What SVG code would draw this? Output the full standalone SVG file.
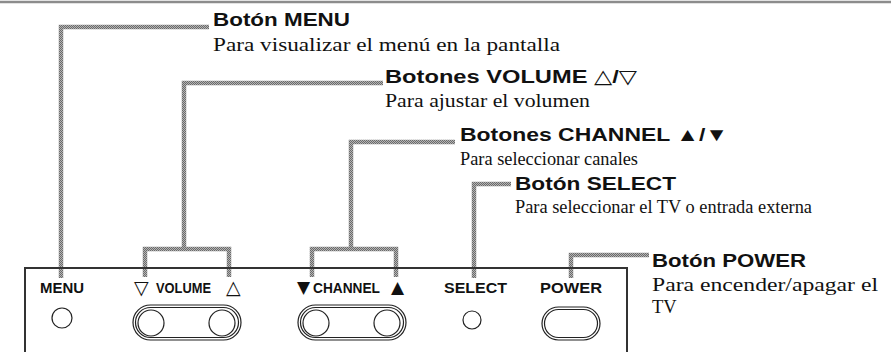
<svg xmlns="http://www.w3.org/2000/svg" width="891" height="352" viewBox="0 0 891 352">
<defs>
<pattern id="dither" width="2" height="2" patternUnits="userSpaceOnUse">
<rect width="2" height="2" fill="#b4b4b4"/>
<rect width="1" height="1" fill="#6a6a6a"/>
<rect x="1" y="1" width="1" height="1" fill="#6a6a6a"/>
</pattern>
</defs>
<style>
.title{font-family:"Liberation Sans",Arial,"DejaVu Sans",sans-serif;font-weight:bold;font-size:19px;fill:#111}
.desc{font-family:"Liberation Serif","Times New Roman",serif;font-size:18.5px;fill:#111}
.lbl{font-family:"Liberation Sans",Arial,sans-serif;font-weight:bold;font-size:14px;fill:#111}
.tri{font-family:"DejaVu Sans",sans-serif;fill:#111}
.conn{fill:none;stroke:url(#dither);stroke-width:4.5;stroke-linejoin:miter}
.ol{fill:none;stroke:#222;stroke-width:1.2}
.panel{fill:none;stroke:#333;stroke-width:2}
</style>
<rect width="891" height="352" fill="#fff"/>
<line x1="0" y1="2" x2="891" y2="2" stroke="#8c8c8c" stroke-width="2.5"/>
<g id="connectors">
<path class="conn" d="M61 278V27H209"/>
<path class="conn" d="M184 249V83H383"/>
<path class="conn" d="M145 277V249H229V277"/>
<path class="conn" d="M351 249V142H455"/>
<path class="conn" d="M312 277V249H396V277"/>
<path class="conn" d="M474 278V184H511"/>
<path class="conn" d="M571 278V255H649"/>
</g>
<g id="panel">
<path class="panel" d="M25 352V268H627V352"/>
</g>
<g id="menu">
<text class="title" x="213" y="26" textLength="137" lengthAdjust="spacingAndGlyphs">Botón MENU</text>
<text class="desc" x="213" y="51" textLength="347" lengthAdjust="spacingAndGlyphs">Para visualizar el menú en la pantalla</text>
<text class="lbl" x="40" y="293" textLength="44" lengthAdjust="spacingAndGlyphs">MENU</text>
<circle class="ol" cx="62" cy="318" r="10"/>
</g>
<g id="volume">
<text class="title" x="385" y="83" textLength="252" lengthAdjust="spacingAndGlyphs">Botones VOLUME △/▽</text>
<text class="desc" x="385" y="107" textLength="205" lengthAdjust="spacingAndGlyphs">Para ajustar el volumen</text>
<text class="tri" x="134" y="294" font-size="19">▽</text>
<text class="lbl" x="156" y="293" textLength="55" lengthAdjust="spacingAndGlyphs">VOLUME</text>
<text class="tri" x="226" y="294" font-size="19">△</text>
<rect class="ol" x="133" y="305" width="108" height="35" rx="17.5"/>
<rect class="ol" x="135.5" y="307.5" width="103" height="30" rx="15"/>
<circle class="ol" cx="151" cy="323" r="13"/>
<circle class="ol" cx="222" cy="323" r="13"/>
</g>
<g id="channel">
<text class="title" x="460" y="141" textLength="268" lengthAdjust="spacingAndGlyphs">Botones CHANNEL ▲/▼</text>
<text class="desc" x="460" y="165" textLength="178" lengthAdjust="spacingAndGlyphs">Para seleccionar canales</text>
<text class="tri" x="297" y="293" font-size="17">▼</text>
<text class="lbl" x="313" y="293" textLength="67" lengthAdjust="spacingAndGlyphs">CHANNEL</text>
<text class="tri" x="391" y="293" font-size="17">▲</text>
<rect class="ol" x="298" y="305" width="108" height="35" rx="17.5"/>
<rect class="ol" x="300.5" y="307.5" width="103" height="30" rx="15"/>
<circle class="ol" cx="316" cy="323" r="13"/>
<circle class="ol" cx="387" cy="323" r="13"/>
</g>
<g id="select">
<text class="title" x="515" y="190" textLength="161" lengthAdjust="spacingAndGlyphs">Botón SELECT</text>
<text class="desc" x="515" y="213" textLength="297" lengthAdjust="spacingAndGlyphs">Para seleccionar el TV o entrada externa</text>
<text class="lbl" x="444" y="293" textLength="63" lengthAdjust="spacingAndGlyphs">SELECT</text>
<circle class="ol" cx="472" cy="320" r="9"/>
</g>
<g id="power">
<text class="title" x="652" y="267" textLength="154" lengthAdjust="spacingAndGlyphs">Botón POWER</text>
<text class="desc" x="652" y="291" font-size="20" textLength="226" lengthAdjust="spacingAndGlyphs">Para encender/apagar el</text>
<text class="desc" x="652" y="313" font-size="20">TV</text>
<text class="lbl" x="540" y="293" textLength="62" lengthAdjust="spacingAndGlyphs">POWER</text>
<rect class="ol" x="542" y="307" width="58" height="33" rx="16.5"/>
<rect class="ol" x="544.5" y="309.5" width="53" height="28" rx="14"/>
</g>
</svg>
